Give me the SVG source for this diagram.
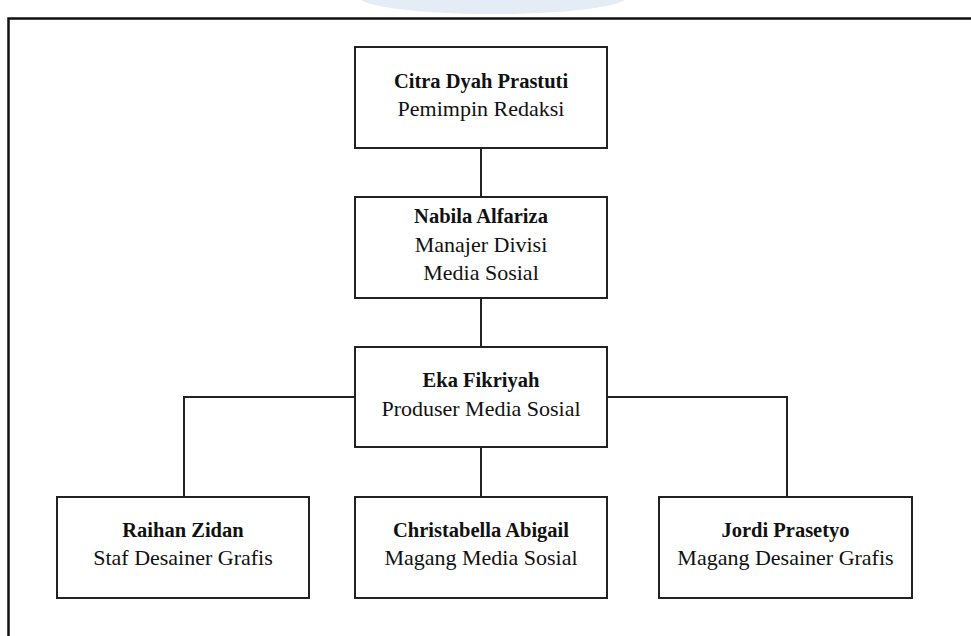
<svg xmlns="http://www.w3.org/2000/svg" width="971" height="636" viewBox="0 0 971 636">
<style>
.box{fill:#fff;stroke:#222;stroke-width:2}
.ln{fill:none;stroke:#222;stroke-width:2}
text{font-family:"Liberation Serif","Times New Roman",serif;font-size:22px;fill:#111;text-anchor:middle}
.b{font-weight:bold;font-size:20.5px}
</style>
<rect width="971" height="636" fill="#fff"/>
<ellipse cx="493" cy="-3" rx="134" ry="17" fill="#e4ecf6"/>
<path d="M8.5,636 V18.5 H971" fill="none" stroke="#111" stroke-width="2.5"/>
<g id="connectors">
<line class="ln" x1="481" y1="148" x2="481" y2="197"/>
<line class="ln" x1="481" y1="298" x2="481" y2="347"/>
<line class="ln" x1="481" y1="447" x2="481" y2="497"/>
<path class="ln" d="M355,397 H184 V497"/>
<path class="ln" d="M607,397 H787 V497"/>
</g>
<g id="n1">
<rect class="box" x="355" y="47" width="252" height="101"/>
<text class="b" x="481" y="88">Citra Dyah Prastuti</text>
<text x="481" y="116">Pemimpin Redaksi</text>
</g>
<g id="n2">
<rect class="box" x="355" y="197" width="252" height="101"/>
<text class="b" x="481" y="223">Nabila Alfariza</text>
<text x="481" y="252">Manajer Divisi</text>
<text x="481" y="280">Media Sosial</text>
</g>
<g id="n3">
<rect class="box" x="355" y="347" width="252" height="100"/>
<text class="b" x="481" y="387">Eka Fikriyah</text>
<text x="481" y="416">Produser Media Sosial</text>
</g>
<g id="n4">
<rect class="box" x="57" y="497" width="252" height="101"/>
<text class="b" x="183" y="537">Raihan Zidan</text>
<text x="183" y="565">Staf Desainer Grafis</text>
</g>
<g id="n5">
<rect class="box" x="355" y="497" width="252" height="101"/>
<text class="b" x="481" y="537">Christabella Abigail</text>
<text x="481" y="565">Magang Media Sosial</text>
</g>
<g id="n6">
<rect class="box" x="659" y="497" width="253" height="101"/>
<text class="b" x="785.5" y="537">Jordi Prasetyo</text>
<text x="785.5" y="565">Magang Desainer Grafis</text>
</g>
</svg>
